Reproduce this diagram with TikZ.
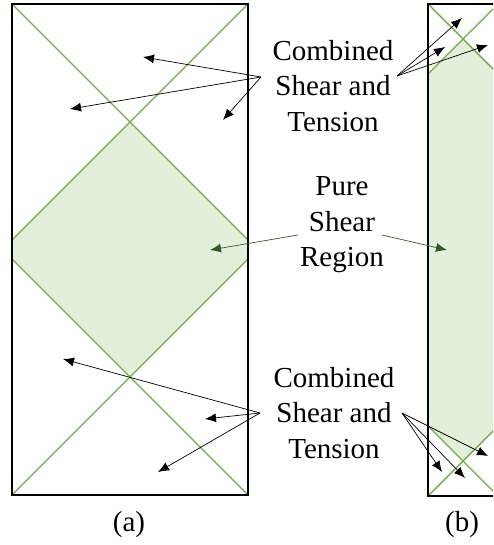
\documentclass[tikz,border=0pt]{standalone}
\usepackage{fontspec}
\setmainfont{Liberation Serif}
\usetikzlibrary{arrows.meta}
\definecolor{lgreen}{HTML}{70AD47}
\definecolor{pgreen}{HTML}{E2EFDA}
\definecolor{dgreen}{HTML}{385723}
\tikzset{
  lbl/.style={align=center, inner sep=0pt, font=\fontsize{29}{35.5}\selectfont},
  pt/.style={-{Latex[length=11pt,width=9pt]}, line width=0.7pt},
  ptg/.style={pt, draw=dgreen, color=dgreen},
  diag/.style={lgreen, line width=1.4pt}
}
\begin{document}
\begin{tikzpicture}[x=1pt,y=-1pt]
\useasboundingbox (0,0) rectangle (493,545);
\clip (0,0) rectangle (493,545);
% (a)
\fill [pgreen] (130,122)--(248,240)--(248,259)--(130,377)--(12,259)--(12,240)--cycle;
\draw [diag] (12,4)--(248,240) (248,4)--(12,240);
\draw [diag] (12,495)--(248,259) (248,495)--(12,259);
\draw [line width=2.8pt] (12,4) rectangle (248,495);
% (b)
\fill [pgreen] (463,39)--(498,74)--(498,426)--(463,461)--(428,426)--(428,74)--cycle;
\draw [diag] (428,4)--(498,74) (498,4)--(428,74);
\draw [diag] (428,496)--(498,426) (498,496)--(428,426);
\draw [line width=1.8pt] (428,4) rectangle (498,496);
% labels
\node [lbl] (top) at (333,86) {Combined\\Shear and\\Tension};
\node [lbl] (mid) at (342,225) {Pure\\Shear\\Region};
\node [lbl] (bot) at (334,413) {Combined\\Shear and\\Tension};
\node [lbl] (capa) at (129,525) {(a)};
\node [lbl] (capb) at (462,525) {(b)};
% arrow ends
\coordinate (tl) at (261,77);
\coordinate (tr) at (397,76);
\coordinate (bl) at (260,413);
\coordinate (br) at (402,413);
\coordinate (ml) at (298,235);
\coordinate (mr) at (382,235);
\coordinate (a1) at (143,57);
\coordinate (a2) at (70,109);
\coordinate (a3) at (223,120);
\coordinate (b1) at (462,18);
\coordinate (b2) at (445,47);
\coordinate (b3) at (488,45);
\coordinate (a4) at (63,359);
\coordinate (a5) at (205,419);
\coordinate (a6) at (158,472);
\coordinate (b4) at (442,472);
\coordinate (b5) at (465,478);
\coordinate (b6) at (488,456);
\coordinate (pa) at (210,250);
\coordinate (pb) at (447,250);
\foreach \t in {a1,a2,a3} \draw [pt] (tl)--(\t);
\foreach \t in {b1,b2,b3} \draw [pt] (tr)--(\t);
\foreach \t in {a4,a5,a6} \draw [pt] (bl)--(\t);
\foreach \t in {b4,b5,b6} \draw [pt] (br)--(\t);
\draw [ptg] (ml)--(pa);
\draw [ptg] (mr)--(pb);
\end{tikzpicture}
\end{document}
